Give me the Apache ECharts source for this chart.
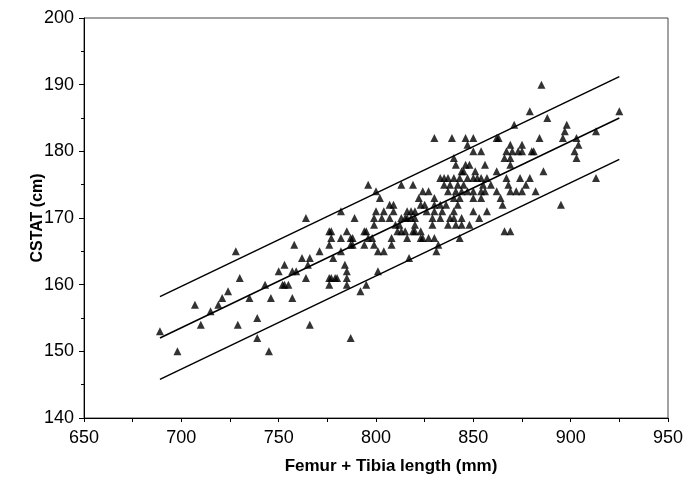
<!DOCTYPE html>
<html>
<head>
<meta charset="utf-8">
<script src="https://cdn.jsdelivr.net/npm/echarts@6/dist/echarts.min.js"></script>
<style>
  html, body { margin: 0; padding: 0; background: #fff; }
  #main { width: 684px; height: 478px; }
</style>
</head>
<body>
<div id="main"></div>
<script>
// femur + tibia length (mm) vs CSTAT (cm)
var points = [
    // left part
    [689,153],[698,150],[707,157],[710,154],[715,156],[719,157],[721,158],[724,159],
    [728,165],[730,161],[729,154],[735,158],[739,155],[739,152],[743,160],[745,150],
    // middle part
    [830,182],
    [833,176],[835,176],
    [796,175],[813,175],[819,175],[835,175],
    [800,174],[824,174],[827,174],[837,174],
    [802,173],[822,173],[830,173],[840,173],
    [807,172],[809,172],[823,172],[825,172],[830,172],[833,172],[836,172],
    [782,171],[800,171],[804,171],[809,171],[816,171],[818,171],[820,171],[826,171],[830,171],[834,171],[840,171],
    [764,170],[789,170],[799,170],[803,170],[807,170],[813,170],[815,170],[816,170],[818,170],[820,170],[829,170],[833,170],[840,170],
    [799,169],[810,169],[812,169],[820,169],[829,169],
    [776,168],[777,168],[785,168],[794,168],[795,168],[811,168],[813,168],[815,168],[819,168],[820,168],[823,168],
    [777,167],[782,167],[787,167],[788,167],[796,167],[798,167],[808,167],[816,167],[823,167],[824,167],[827,167],[830,167],
    [758,166],[776,166],[787,166],[788,166],[794,166],[799,166],[808,166],[832,166],
    [771,165],[782,165],[801,165],[804,165],[831,165],
    [762,164],[766,164],[778,164],[817,164],
    [753,163],[765,163],[784,163],
    [750,162],[757,162],[759,162],[785,162],[801,162],
    [764,161],[776,161],[777,161],[779,161],[780,161],[785,161],
    [752,160],[753,160],[755,160],[776,160],[785,160],[795,160],
    [792,159],
    [746,158],[757,158],
    [766,154],
    [787,152],
    // right part
    [885,190],[879,186],[925,186],[888,185],[871,184],[898,184],[897,183],[913,183],
    [839,182],[846,182],[850,182],[862,182],[863,182],[884,182],[896,182],[903,182],
    [847,181],[869,181],[875,181],[904,181],
    [850,180],[854,180],[867,180],[870,180],[873,180],[875,180],[880,180],[881,180],[902,180],
    [840,179],[866,179],[869,179],[903,179],
    [841,178],[846,178],[848,178],[856,178],[869,178],
    [844,177],[845,177],[851,177],[862,177],[886,177],
    [837,176],[840,176],[843,176],[847,176],[850,176],[852,176],[854,176],[857,176],[867,176],[874,176],[879,176],[913,176],
    [838,175],[842,175],[845,175],[855,175],[859,175],[868,175],[877,175],
    [841,174],[844,174],[847,174],[850,174],[854,174],[856,174],[862,174],[869,174],[872,174],[875,174],[882,174],
    [843,173],[850,173],[854,173],[864,173],
    [842,172],[865,172],[895,172],
    [850,171],[857,171],
    [838,170],[844,170],[853,170],
    [837,169],[841,169],[844,169],[848,169],
    [866,168],[869,168],
    [843,167]
];

// regression line and limits (end points)
var lineX = [689, 925];
var upperY = [158.2, 191.2];
var meanY = [152.0, 185.0];
var lowerY = [145.8, 178.8];

var font = 'Liberation Sans, Arial, Helvetica, sans-serif';

function pair(xs, ys) {
    return xs.map(function (x, i) { return [x, ys[i]]; });
}

function lineSeries(ys) {
    return {
        type: 'line',
        data: pair(lineX, ys),
        symbol: 'none',
        silent: true,
        lineStyle: { color: '#000', width: 1.5 },
        z: 3
    };
}

var myChart = echarts.init(document.getElementById('main'));
var option = {
    backgroundColor: '#fff',
    animation: false,
    grid: {
        left: 84, right: 16, top: 18, bottom: 60,
        outerBoundsMode: 'none',
        show: true,
        borderColor: '#444',
        borderWidth: 1
    },
    xAxis: {
        type: 'value',
        min: 650, max: 950, interval: 50,
        name: 'Femur + Tibia length (mm)',
        nameLocation: 'middle',
        nameGap: 40,
        nameMoveOverlap: false,
        nameTextStyle: { fontFamily: font, fontWeight: 'bold', fontSize: 17, color: '#000', padding: [0, 0, 0, 30] },
        axisLine: { lineStyle: { color: '#000', width: 1 } },
        axisTick: { show: true, length: 4, lineStyle: { color: '#000' } },
        minorTick: { show: true, splitNumber: 2, length: 4, lineStyle: { color: '#000' } },
        axisLabel: { fontFamily: font, fontSize: 18, color: '#000', margin: 11 },
        splitLine: { show: false }
    },
    yAxis: {
        type: 'value',
        min: 140, max: 200, interval: 10,
        name: 'CSTAT (cm)',
        nameLocation: 'middle',
        nameGap: 38,
        nameMoveOverlap: false,
        nameTextStyle: { fontFamily: font, fontWeight: 'bold', fontSize: 16, color: '#000' },
        axisLine: { lineStyle: { color: '#000', width: 1 } },
        axisTick: { show: true, length: 5, lineStyle: { color: '#000' } },
        minorTick: { show: true, splitNumber: 2, length: 3, lineStyle: { color: '#000' } },
        axisLabel: { fontFamily: font, fontSize: 18, color: '#000', margin: 10 },
        splitLine: { show: false }
    },
    series: [
        {
            type: 'scatter',
            data: points,
            symbol: 'triangle',
            symbolSize: 8,
            itemStyle: { color: '#000' },
            z: 4
        },
        lineSeries(upperY),
        lineSeries(meanY),
        lineSeries(lowerY)
    ]
};
myChart.setOption(option);
</script>
</body>
</html>
